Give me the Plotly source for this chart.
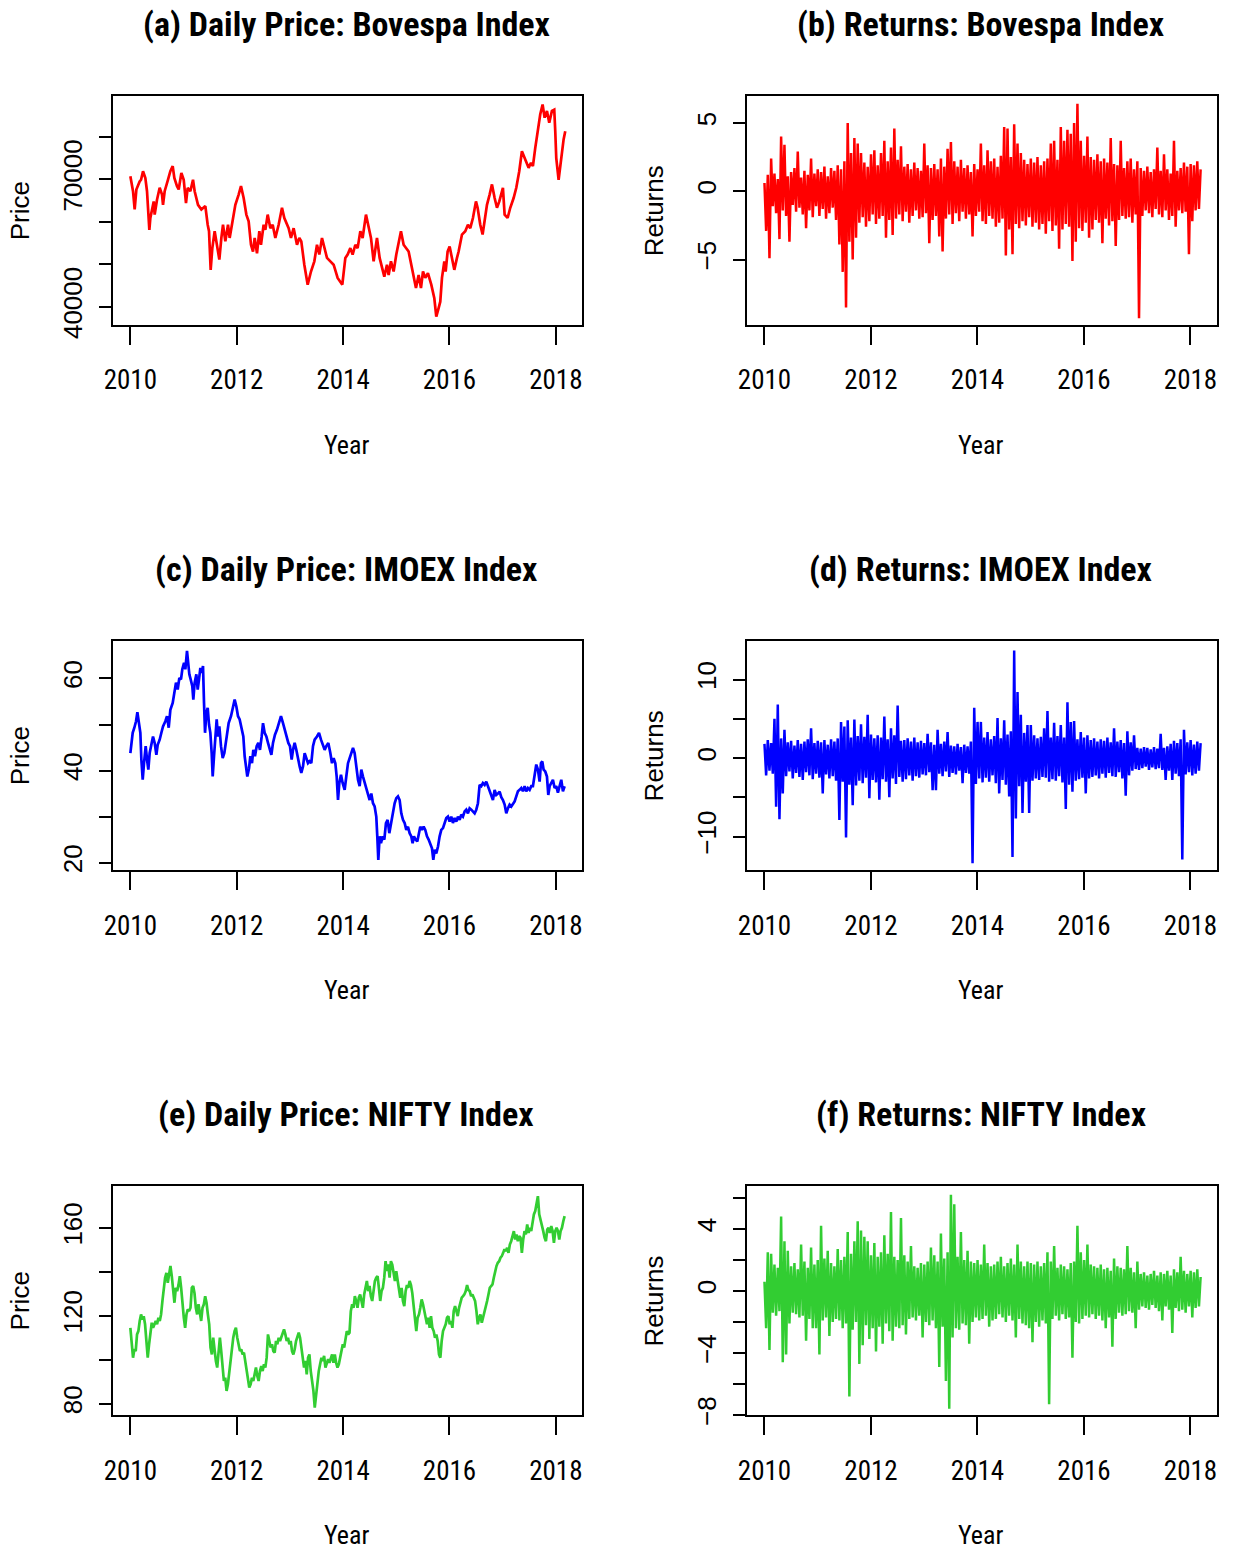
import numpy as np
import plotly.graph_objects as go

# ---------------- data ----------------
x_tick_years = [2010, 2012, 2014, 2016, 2018]

bovespa_year = [
    2010.000, 2010.050, 2010.081, 2010.113, 2010.175, 2010.201, 2010.238, 2010.282, 2010.313, 2010.332,
    2010.357, 2010.376, 2010.407, 2010.439, 2010.457, 2010.501, 2010.551, 2010.595, 2010.614, 2010.645,
    2010.708, 2010.752, 2010.796, 2010.827, 2010.877, 2010.909, 2010.959, 2011.003, 2011.046, 2011.078,
    2011.128, 2011.178, 2011.209, 2011.272, 2011.335, 2011.410, 2011.454, 2011.479, 2011.510, 2011.541,
    2011.585, 2011.629, 2011.673, 2011.711, 2011.742, 2011.786, 2011.836, 2011.867, 2011.911, 2011.974,
    2012.036, 2012.080, 2012.130, 2012.181, 2012.224, 2012.268, 2012.306, 2012.337, 2012.381, 2012.425,
    2012.456, 2012.506, 2012.538, 2012.582, 2012.632, 2012.676, 2012.726, 2012.788, 2012.851, 2012.895,
    2012.976, 2013.020, 2013.070, 2013.133, 2013.177, 2013.214, 2013.271, 2013.334, 2013.396, 2013.459,
    2013.509, 2013.553, 2013.603, 2013.647, 2013.697, 2013.760, 2013.822, 2013.897, 2013.948, 2013.985,
    2014.042, 2014.085, 2014.136, 2014.179, 2014.230, 2014.273, 2014.324, 2014.367, 2014.430, 2014.480,
    2014.524, 2014.574, 2014.637, 2014.687, 2014.731, 2014.775, 2014.825, 2014.856, 2014.900, 2014.950,
    2015.000, 2015.044, 2015.088, 2015.138, 2015.188, 2015.232, 2015.282, 2015.326, 2015.370, 2015.420,
    2015.464, 2015.502, 2015.545, 2015.595, 2015.658, 2015.715, 2015.752, 2015.796, 2015.827, 2015.859,
    2015.903, 2015.928, 2015.965, 2016.003, 2016.047, 2016.091, 2016.141, 2016.172, 2016.235, 2016.297,
    2016.347, 2016.391, 2016.441, 2016.498, 2016.529, 2016.579, 2016.623, 2016.661, 2016.705, 2016.755,
    2016.799, 2016.849, 2016.893, 2016.937, 2017.005, 2017.037, 2017.093, 2017.143, 2017.206, 2017.256,
    2017.312, 2017.362, 2017.425, 2017.488, 2017.532, 2017.569, 2017.613, 2017.657, 2017.707, 2017.751,
    2017.789, 2017.833, 2017.876, 2017.926, 2017.970, 2017.989, 2018.008, 2018.052, 2018.083, 2018.114,
    2018.146, 2018.177]
bovespa_price = [
    70700, 67200, 62900, 67600, 69500, 69900, 71900, 70300, 67200, 64000,
    58100, 60900, 63300, 64800, 61700, 65200, 68000, 66400, 64000, 67200,
    69900, 71900, 73100, 70300, 68400, 67600, 71500, 69900, 64400, 68000,
    67200, 69900, 67200, 64000, 62900, 63700, 59300, 57800, 48700, 53800,
    57800, 54600, 51100, 56200, 59300, 55400, 59300, 56200, 59300, 64000,
    66400, 68400, 65600, 61700, 60100, 54600, 53000, 56200, 52600, 57800,
    54600, 59300, 58100, 61700, 58500, 59300, 56200, 59300, 63300, 60900,
    58500, 56200, 58500, 54600, 56200, 55400, 49900, 45200, 48300, 50700,
    54600, 52300, 56200, 53800, 51500, 50700, 49900, 46800, 46000, 45200,
    51500, 52300, 53800, 52300, 54600, 53800, 57800, 56200, 61700, 58500,
    56200, 50700, 56200, 51500, 49100, 47100, 49900, 47500, 50700, 48300,
    52300, 55400, 57800, 54600, 53800, 53000, 49900, 47500, 44400, 47500,
    44400, 48300, 46800, 47900, 45200, 42000, 37700, 39700, 41200, 46800,
    50700, 48300, 53000, 54200, 51500, 48700, 51500, 53000, 57000, 57800,
    59300, 58500, 60900, 64800, 63300, 59300, 57000, 60900, 64000, 66400,
    68800, 65600, 63300, 64800, 68000, 61700, 60900, 63300, 65600, 68000,
    71900, 76600, 74700, 72700, 73900, 73100, 77400, 81300, 85300, 87600,
    84500, 86100, 83300, 86100, 86400, 81300, 75000, 69900, 73500, 76600,
    79400, 81300]

imoex_year = [
    2010.000, 2010.013, 2010.044, 2010.075, 2010.107, 2010.132, 2010.157, 2010.188, 2010.207, 2010.232,
    2010.257, 2010.288, 2010.313, 2010.338, 2010.363, 2010.395, 2010.426, 2010.457, 2010.489, 2010.514,
    2010.551, 2010.583, 2010.614, 2010.658, 2010.689, 2010.721, 2010.752, 2010.796, 2010.827, 2010.858,
    2010.890, 2010.921, 2010.952, 2010.977, 2011.009, 2011.034, 2011.065, 2011.090, 2011.109, 2011.134,
    2011.165, 2011.184, 2011.209, 2011.241, 2011.266, 2011.291, 2011.316, 2011.341, 2011.366, 2011.385,
    2011.404, 2011.429, 2011.454, 2011.479, 2011.504, 2011.529, 2011.548, 2011.573, 2011.598, 2011.623,
    2011.648, 2011.673, 2011.704, 2011.736, 2011.767, 2011.805, 2011.848, 2011.892, 2011.930, 2011.961,
    2011.993, 2012.024, 2012.055, 2012.093, 2012.124, 2012.149, 2012.174, 2012.199, 2012.231, 2012.256,
    2012.287, 2012.312, 2012.343, 2012.375, 2012.406, 2012.437, 2012.469, 2012.494, 2012.525, 2012.557,
    2012.588, 2012.619, 2012.651, 2012.682, 2012.719, 2012.757, 2012.795, 2012.832, 2012.870, 2012.901,
    2012.932, 2012.970, 2013.001, 2013.033, 2013.058, 2013.089, 2013.120, 2013.152, 2013.183, 2013.214,
    2013.246, 2013.277, 2013.308, 2013.340, 2013.371, 2013.402, 2013.434, 2013.465, 2013.509, 2013.547,
    2013.584, 2013.622, 2013.653, 2013.684, 2013.722, 2013.760, 2013.791, 2013.822, 2013.854, 2013.879,
    2013.904, 2013.929, 2013.960, 2013.991, 2014.029, 2014.060, 2014.092, 2014.123, 2014.154, 2014.186,
    2014.217, 2014.248, 2014.280, 2014.311, 2014.342, 2014.374, 2014.405, 2014.436, 2014.468, 2014.499,
    2014.530, 2014.562, 2014.593, 2014.624, 2014.643, 2014.662, 2014.687, 2014.712, 2014.743, 2014.775,
    2014.806, 2014.837, 2014.869, 2014.900, 2014.931, 2014.969, 2015.000, 2015.032, 2015.063, 2015.094,
    2015.126, 2015.157, 2015.188, 2015.220, 2015.251, 2015.282, 2015.307, 2015.332, 2015.364, 2015.395,
    2015.426, 2015.451, 2015.483, 2015.514, 2015.545, 2015.577, 2015.608, 2015.639, 2015.671, 2015.696,
    2015.721, 2015.752, 2015.784, 2015.815, 2015.846, 2015.878, 2015.909, 2015.940, 2015.971, 2016.003,
    2016.034, 2016.065, 2016.097, 2016.128, 2016.159, 2016.191, 2016.222, 2016.253, 2016.285, 2016.316,
    2016.347, 2016.379, 2016.410, 2016.441, 2016.473, 2016.504, 2016.535, 2016.567, 2016.598, 2016.629,
    2016.661, 2016.692, 2016.723, 2016.755, 2016.786, 2016.817, 2016.849, 2016.880, 2016.911, 2016.943,
    2016.974, 2017.005, 2017.037, 2017.068, 2017.099, 2017.131, 2017.162, 2017.193, 2017.225, 2017.256,
    2017.287, 2017.319, 2017.350, 2017.381, 2017.413, 2017.444, 2017.475, 2017.507, 2017.538, 2017.569,
    2017.601, 2017.632, 2017.663, 2017.695, 2017.720, 2017.745, 2017.770, 2017.801, 2017.833, 2017.858,
    2017.883, 2017.914, 2017.945, 2017.977, 2018.008, 2018.039, 2018.071, 2018.102, 2018.133, 2018.165]
imoex_price = [
    43.8, 45.3, 48.2, 49.3, 50.7, 52.7, 50.7, 48.2, 42.4, 38.0,
    41.6, 45.3, 42.4, 40.2, 43.8, 45.3, 47.4, 46.0, 43.4, 45.6,
    46.7, 48.2, 49.6, 50.7, 51.8, 49.3, 53.2, 54.7, 56.9, 59.1,
    57.6, 60.1, 59.8, 62.0, 63.4, 62.0, 66.0, 63.4, 60.9, 59.8,
    58.3, 55.4, 59.1, 60.9, 57.6, 59.8, 62.3, 61.2, 62.7, 54.7,
    48.2, 52.5, 53.6, 50.0, 48.2, 43.8, 38.7, 43.1, 47.4, 51.1,
    47.4, 49.6, 45.3, 42.7, 43.8, 47.4, 50.3, 51.8, 53.6, 55.4,
    53.9, 51.8, 51.1, 48.9, 47.4, 43.1, 40.2, 38.7, 40.5, 43.1,
    41.6, 44.5, 43.1, 45.3, 46.0, 44.5, 47.4, 50.3, 48.2, 47.4,
    46.0, 44.9, 43.4, 46.0, 47.8, 48.9, 50.3, 51.8, 50.3, 48.9,
    47.4, 46.0, 45.3, 42.4, 44.5, 46.0, 44.5, 42.4, 40.9, 39.5,
    40.9, 43.8, 42.4, 41.6, 42.0, 41.6, 45.3, 46.7, 47.4, 48.2,
    46.7, 45.3, 44.5, 45.3, 46.0, 43.8, 41.6, 42.7, 41.6, 38.7,
    33.6, 37.3, 39.1, 37.3, 35.8, 38.7, 41.6, 42.7, 43.8, 44.9,
    43.8, 40.5, 38.0, 36.6, 40.2, 38.7, 37.3, 35.8, 34.4, 33.6,
    35.0, 32.9, 32.2, 30.0, 25.7, 20.6, 25.7, 24.2, 25.7, 25.0,
    28.6, 29.3, 26.4, 28.6, 30.7, 32.9, 34.0, 34.4, 33.6, 30.7,
    29.3, 28.6, 27.1, 27.8, 26.4, 25.7, 24.2, 25.7, 25.0, 24.6,
    26.4, 27.8, 27.1, 27.8, 27.1, 25.7, 25.0, 24.2, 23.1, 20.6,
    22.8, 22.0, 23.5, 25.7, 27.1, 27.5, 28.6, 29.7, 30.0, 28.9,
    30.0, 28.6, 29.7, 28.9, 30.0, 29.3, 30.4, 30.0, 31.1, 31.5,
    30.7, 31.8, 31.5, 31.1, 30.7, 31.5, 32.9, 36.9, 36.6, 37.3,
    36.9, 37.6, 36.6, 35.8, 34.7, 33.6, 35.8, 34.7, 35.0, 35.4,
    34.2, 33.6, 32.6, 30.7, 31.8, 32.6, 32.2, 32.9, 33.3, 34.4,
    35.5, 35.8, 36.2, 35.5, 36.6, 35.5, 36.2, 35.8, 36.6, 36.6,
    38.7, 41.3, 40.2, 37.6, 41.6, 42.0, 40.2, 39.8, 38.7, 34.7,
    36.6, 37.3, 38.0, 36.2, 36.6, 35.2, 36.6, 38.0, 35.5, 36.6]

nifty_first_year, nifty_last_year = 2010.0, 2018.165
nifty_price = [
    114.5, 107.0, 100.9, 104.7, 103.9, 111.5, 113.0, 117.6, 120.6, 118.3,
    119.8, 116.1, 110.0, 100.9, 107.0, 111.5, 116.8, 114.5, 116.1, 117.6,
    116.1, 119.1, 117.6, 120.6, 126.7, 132.7, 137.3, 139.5, 135.0, 138.8,
    142.6, 138.0, 131.2, 125.9, 132.7, 131.2, 133.9, 138.0, 132.7, 123.6,
    119.1, 114.5, 120.6, 122.9, 122.1, 123.6, 132.7, 133.5, 130.3, 123.6,
    120.6, 125.2, 121.4, 117.6, 123.6, 125.2, 128.9, 125.9, 120.6, 116.1,
    105.5, 102.4, 110.0, 103.9, 99.4, 96.4, 103.9, 110.0, 103.9, 96.4,
    90.3, 91.8, 85.8, 88.8, 94.8, 100.9, 105.5, 110.0, 113.0, 114.5,
    110.0, 107.0, 103.9, 104.7, 102.4, 103.2, 99.4, 94.8, 91.8, 87.3,
    88.8, 91.8, 90.3, 93.3, 96.4, 92.6, 90.3, 94.8, 97.1, 94.8,
    97.9, 96.4, 100.9, 111.5, 108.5, 105.5, 107.0, 103.9, 103.2, 108.5,
    107.0, 110.0, 108.5, 110.0, 111.5, 113.8, 111.5, 108.5, 110.0, 107.0,
    108.5, 103.9, 102.4, 104.7, 108.5, 110.8, 112.3, 110.0, 105.5, 100.9,
    96.4, 99.4, 93.3, 100.9, 102.4, 94.8, 90.3, 85.8, 78.2, 84.2,
    91.8, 94.8, 97.9, 100.9, 99.4, 101.7, 96.4, 97.9, 100.2, 98.6,
    100.9, 102.4, 98.6, 102.4, 98.6, 96.4, 97.9, 100.9, 102.4, 107.0,
    105.5, 110.0, 113.0, 111.5, 112.3, 122.1, 125.2, 123.6, 128.9, 126.7,
    123.6, 128.2, 129.7, 126.7, 123.6, 129.7, 132.7, 135.8, 131.2, 133.5,
    128.9, 126.7, 131.2, 135.8, 137.3, 138.0, 132.7, 126.7, 131.2, 132.7,
    137.3, 144.8, 140.3, 143.3, 137.3, 144.8, 143.3, 138.8, 135.8, 140.3,
    135.8, 131.2, 128.2, 132.7, 126.7, 124.4, 131.2, 133.9, 132.7, 135.8,
    133.9, 130.3, 123.6, 117.6, 113.0, 119.1, 120.6, 123.6, 127.4, 125.2,
    122.1, 119.1, 116.1, 119.1, 114.5, 119.8, 114.5, 113.0, 110.0, 111.5,
    108.5, 102.4, 100.9, 108.5, 113.0, 114.5, 116.1, 119.1, 119.8, 116.1,
    117.6, 114.5, 122.1, 124.4, 122.1, 119.8, 123.6, 126.7, 128.2, 128.9,
    129.7, 131.2, 133.9, 131.7, 131.2, 128.9, 129.7, 128.2, 126.7, 122.1,
    116.1, 119.1, 120.6, 116.8, 119.1, 121.4, 123.6, 126.7, 129.7, 132.7,
    133.5, 134.2, 137.3, 140.3, 142.6, 144.1, 144.8, 146.4, 147.1, 148.6,
    150.2, 149.4, 150.9, 148.6, 152.4, 153.9, 157.0, 158.5, 154.7, 157.0,
    153.9, 156.2, 155.5, 148.6, 154.7, 158.5, 157.0, 161.5, 157.7, 160.0,
    158.5, 162.3, 166.1, 167.6, 170.6, 174.4, 166.1, 163.0, 160.8, 158.5,
    155.5, 153.9, 159.2, 160.0, 157.7, 160.8, 158.5, 153.2, 158.5, 160.0,
    158.5, 154.7, 158.5, 160.0, 163.0, 165.3]

returns_first_year, returns_last_year = 2010.0, 2018.19

bovespa_returns = [
    0.6, -2.9, 1.2, -4.9, 2.4, -1.1, 1.3, -1.6, 0.9, -3.5,
    4.0, -1.4, 3.4, -1.8, 1.1, -3.7, 1.4, -1.0, 1.7, -1.5,
    2.9, -1.2, 1.0, -1.7, 1.5, -2.7, 1.2, -1.4, 2.4, -1.9,
    1.3, -1.1, 1.6, -1.8, 1.4, -1.3, 1.8, -2.0, 1.1, -1.6,
    1.7, -1.2, 1.5, -2.1, 1.9, -3.9, 1.6, -5.9, 2.2, -8.5,
    5.0, -3.7, 2.8, -5.0, 3.9, -3.4, 3.5, -2.3, 2.8, -1.9,
    2.1, -2.6, 1.8, -2.2, 2.7, -1.7, 3.0, -2.4, 1.9, -2.0,
    2.8, -1.8, 3.7, -3.4, 2.2, -2.1, 3.2, -3.2, 4.6, -2.0,
    2.3, -1.7, 3.3, -2.2, 1.8, -1.5, 2.0, -2.3, 1.6, -1.8,
    2.1, -1.4, 1.7, -2.0, 1.5, -1.9, 3.5, -1.6, 1.9, -3.8,
    1.7, -2.1, 2.0, -1.8, 1.6, -3.3, 2.4, -4.4, 1.8, -2.0,
    3.1, -1.7, 3.6, -2.4, 2.2, -1.6, 1.8, -2.2, 2.3, -1.5,
    1.7, -2.0, 1.9, -1.7, 1.4, -3.3, 2.0, -1.8, 1.6, -1.5,
    3.5, -2.2, 1.9, -2.4, 3.0, -1.8, 2.2, -2.0, 2.4, -2.6,
    1.8, -2.3, 2.6, -2.0, 4.7, -4.7, 4.6, -2.8, 2.5, -4.6,
    4.9, -2.4, 3.5, -2.7, 2.8, -2.2, 2.3, -2.5, 2.0, -1.9,
    2.4, -2.6, 2.1, -2.3, 2.5, -2.8, 1.9, -2.4, 2.2, -3.1,
    2.4, -2.2, 3.5, -2.9, 3.7, -2.5, 2.3, -4.2, 4.7, -2.8,
    3.7, -2.4, 4.5, -2.6, 4.2, -5.1, 5.0, -3.7, 6.4, -2.7,
    3.7, -2.9, 2.6, -2.3, 4.0, -3.4, 2.5, -2.8, 2.3, -2.1,
    2.7, -2.3, 2.2, -3.8, 2.4, -2.0, 2.1, -2.5, 3.9, -2.2,
    2.0, -4.0, 1.9, -2.1, 3.7, -1.8, 1.7, -2.0, 2.2, -1.9,
    2.4, -2.3, 1.6, -1.7, 2.2, -9.3, 1.7, -1.8, 1.5, -1.4,
    1.8, -1.6, 1.4, -1.9, 1.6, -1.3, 3.2, -1.7, 1.5, -1.9,
    2.7, -1.4, 1.6, -2.1, 1.3, -1.8, 3.7, -2.6, 1.5, -1.4,
    1.7, -1.6, 2.1, -1.5, 1.8, -4.6, 2.0, -2.2, 1.9, -1.4,
    2.2, -1.3, 1.6]

imoex_returns = [
    1.8, -2.2, 2.3, -1.6, 1.9, -2.0, 5.0, -6.2, 6.8, -7.8,
    2.5, -4.5, 3.6, -2.3, 2.0, -1.7, 2.2, -2.6, 1.6, -1.9,
    2.3, -2.4, 1.8, -2.8, 2.1, -1.8, 2.4, -2.2, 3.8, -2.7,
    1.9, -2.0, 2.2, -2.5, 2.0, -4.5, 2.3, -2.1, 1.7, -2.6,
    2.4, -2.3, 2.1, -2.9, 2.5, -7.9, 4.6, -3.0, 4.0, -10.1,
    4.8, -3.4, 2.6, -6.0, 4.9, -3.5, 2.8, -2.9, 4.3, -3.2,
    2.7, -2.5, 5.5, -5.1, 3.0, -2.8, 2.5, -3.1, 2.9, -5.3,
    2.6, -2.7, 5.3, -3.0, 2.4, -5.0, 3.8, -2.6, 2.9, -3.3,
    6.7, -2.4, 2.2, -3.0, 2.3, -2.7, 2.5, -2.2, 2.1, -2.9,
    2.6, -2.3, 2.0, -2.5, 2.2, -2.1, 1.9, -2.2, 3.1, -1.8,
    2.0, -4.1, 1.7, -4.1, 3.6, -2.0, 1.8, -2.3, 2.1, -1.7,
    3.3, -2.4, 1.6, -1.9, 1.5, -2.1, 1.8, -1.6, 1.4, -3.2,
    1.7, -1.9, 1.5, -2.0, 2.1, -13.4, 6.4, -3.3, 4.6, -2.6,
    4.6, -3.1, 2.6, -2.5, 3.3, -3.0, 2.4, -2.2, 2.8, -3.2,
    5.1, -4.5, 2.5, -2.8, 4.8, -3.4, 3.0, -4.9, 3.4, -12.6,
    13.7, -7.7, 8.4, -3.6, 5.5, -7.0, 3.2, -3.0, 4.2, -7.0,
    4.2, -2.9, 2.9, -2.6, 2.5, -2.8, 2.7, -2.4, 3.8, -2.5,
    6.0, -3.0, 2.6, -2.7, 4.5, -2.9, 2.8, -2.3, 4.2, -3.1,
    2.6, -6.5, 7.1, -3.4, 4.6, -4.3, 4.7, -2.9, 2.4, -2.7,
    3.3, -2.5, 2.6, -4.5, 2.9, -2.6, 2.3, -2.4, 2.5, -2.2,
    2.1, -2.6, 2.4, -2.0, 2.2, -2.5, 2.6, -1.9, 2.0, -2.3,
    3.8, -2.4, 2.1, -1.8, 2.3, -2.6, 1.9, -4.8, 3.4, -2.2,
    2.0, -1.6, 2.9, -1.4, 1.3, -1.5, 1.2, -1.3, 1.4, -1.1,
    1.3, -1.5, 1.1, -1.2, 1.4, -1.4, 1.2, -1.3, 3.1, -1.5,
    1.3, -2.8, 1.5, -1.6, 1.8, -2.8, 2.2, -2.0, 1.9, -2.3,
    2.4, -12.9, 3.6, -2.1, 2.0, -1.8, 2.3, -2.2, 1.7, -2.0,
    2.1, -1.6, 1.9]

nifty_returns = [
    0.6, -2.4, 2.5, -3.8, 2.4, -1.4, 1.7, -1.6, 1.5, -1.3,
    4.8, -4.6, 3.2, -4.1, 2.6, -2.1, 1.6, -1.4, 1.8, -1.5,
    1.4, -1.7, 3.0, -1.6, 1.9, -3.2, 1.5, -1.8, 2.8, -2.4,
    1.7, -2.4, 2.0, -4.1, 4.2, -1.9, 2.1, -1.7, 2.6, -2.9,
    1.8, -2.0, 1.6, -1.8, 2.7, -1.9, 2.0, -2.4, 2.2, -2.1,
    3.8, -6.8, 2.4, -2.5, 3.2, -2.0, 4.5, -4.7, 3.9, -3.5,
    3.5, -2.2, 3.2, -3.1, 2.3, -2.4, 3.1, -3.9, 2.2, -2.3,
    2.5, -3.4, 3.6, -2.1, 2.4, -2.6, 5.1, -3.2, 2.2, -2.3,
    2.0, -2.4, 4.7, -2.2, 2.3, -2.8, 1.9, -1.8, 2.9, -1.7,
    1.6, -1.9, 1.5, -1.6, 1.8, -3.0, 1.7, -2.0, 1.9, -2.2,
    2.8, -1.9, 2.3, -2.4, 1.9, -4.9, 3.7, -2.3, 2.1, -5.8,
    2.5, -7.6, 6.2, -3.0, 5.6, -2.4, 2.2, -2.5, 3.8, -2.1,
    2.0, -2.2, 2.6, -3.4, 1.9, -2.0, 1.8, -1.7, 2.0, -1.9,
    1.7, -1.8, 3.0, -1.6, 1.8, -2.3, 1.6, -1.9, 1.7, -1.8,
    1.9, -1.5, 2.2, -1.7, 1.6, -2.0, 1.8, -1.6, 2.1, -1.9,
    1.7, -3.0, 3.0, -1.8, 1.9, -2.1, 1.6, -2.2, 1.9, -2.4,
    1.8, -3.3, 1.7, -2.0, 1.9, -2.3, 1.6, -1.9, 1.8, -2.1,
    2.5, -7.3, 1.9, -1.8, 2.9, -1.6, 1.5, -1.9, 1.7, -1.5,
    1.6, -1.8, 1.4, -1.7, 1.8, -4.3, 1.9, -2.0, 4.2, -2.1,
    2.5, -1.8, 2.0, -1.6, 3.0, -1.7, 1.7, -1.5, 1.6, -1.8,
    1.5, -1.6, 1.7, -1.9, 1.4, -2.4, 1.5, -1.7, 1.3, -3.6,
    2.1, -1.8, 1.6, -1.4, 1.5, -1.6, 1.4, -1.5, 2.9, -1.3,
    1.5, -1.4, 1.2, -2.4, 1.9, -1.2, 1.1, -1.0, 1.2, -1.1,
    1.0, -1.2, 1.1, -0.9, 1.3, -1.1, 1.0, -1.3, 1.2, -1.9,
    1.1, -1.0, 1.3, -1.2, 1.0, -2.7, 1.4, -1.1, 1.2, -1.3,
    2.2, -1.2, 1.3, -1.4, 1.1, -1.0, 1.3, -1.7, 1.2, -1.1,
    1.4, -1.0, 0.9]

# ---------------- layout constants ----------------
# Measured page mapping: shown_x = 0.9932 * fig_x + 8.6, shown_y = 0.991 * fig_y - 1.
# Positions below are reference-picture pixels converted through that mapping.
W, H = 1235, 1580
SX, DX = 0.9932, 8.6
SY, DY = 0.991, -1.0


def px(xr):
    return ((xr - DX) / SX) / W


def py(yr):
    return 1 - ((yr - DY) / SY) / H


COLS = [(112.3, 582.0), (746.7, 1217.0)]
ROW_TOPS = [95.0, 640.0, 1185.0]
BOX_H = 229.0
X_RANGE = [2009.667, 2018.494]

NARROW = "Liberation Sans Narrow, Arial Narrow, Roboto Condensed, sans-serif"
REG = "Liberation Sans, Arial, sans-serif"

nifty_x = np.linspace(nifty_first_year, nifty_last_year, len(nifty_price))
ret_x_b = np.linspace(returns_first_year, returns_last_year, len(bovespa_returns))
ret_x_d = np.linspace(returns_first_year, returns_last_year, len(imoex_returns))
ret_x_f = np.linspace(returns_first_year, returns_last_year, len(nifty_returns))

panels = [
    dict(title="(a) Daily Price: Bovespa Index", x=bovespa_year, y=bovespa_price, color="#FF0000",
         ylab="Price", yr=[35708, 89600], tv=[40000, 50000, 60000, 70000, 80000],
         tt=["40000", "", "", "70000", ""], row=0, col=0, lw=2.7),
    dict(title="(b) Returns: Bovespa Index", x=ret_x_b, y=bovespa_returns, color="#FF0000",
         ylab="Returns", yr=[-9.79, 6.97], tv=[-5, 0, 5], tt=["\u22125", "0", "5"], row=0, col=1, lw=2.5),
    dict(title="(c) Daily Price: IMOEX Index", x=imoex_year, y=imoex_price, color="#0000FF",
         ylab="Price", yr=[18.37, 68.12], tv=[20, 30, 40, 50, 60], tt=["20", "", "40", "", "60"],
         row=1, col=0, lw=2.7),
    dict(title="(d) Returns: IMOEX Index", x=ret_x_d, y=imoex_returns, color="#0000FF",
         ylab="Returns", yr=[-14.27, 14.89], tv=[-10, -5, 0, 5, 10], tt=["\u221210", "", "0", "", "10"],
         row=1, col=1, lw=2.5),
    dict(title="(e) Daily Price: NIFTY Index", x=nifty_x, y=nifty_price, color="#32CD32",
         ylab="Price", yr=[74.73, 178.95], tv=[80, 100, 120, 140, 160], tt=["80", "", "120", "", "160"],
         row=2, col=0, lw=2.7),
    dict(title="(f) Returns: NIFTY Index", x=ret_x_f, y=nifty_returns, color="#32CD32",
         ylab="Returns", yr=[-8.01, 6.76], tv=[-8, -6, -4, -2, 0, 2, 4, 6],
         tt=["\u22128", "", "\u22124", "", "0", "", "4", ""], row=2, col=1, lw=2.5),
]

fig = go.Figure()
layout = dict(width=W, height=H, margin=dict(l=0, r=0, t=0, b=0),
              paper_bgcolor="white", plot_bgcolor="white", showlegend=False)
annotations = []

for k, p in enumerate(panels, start=1):
    sfx = "" if k == 1 else str(k)
    x0, x1 = COLS[p["col"]]
    top = ROW_TOPS[p["row"]]
    bot = top + BOX_H
    fig.add_trace(go.Scatter(x=p["x"], y=p["y"], mode="lines",
                             line=dict(color=p["color"], width=p["lw"]),
                             xaxis="x" + sfx, yaxis="y" + sfx, hoverinfo="skip"))
    layout["xaxis" + sfx] = dict(
        domain=[px(x0), px(x1)], anchor="y" + sfx, range=X_RANGE,
        tickmode="array", tickvals=x_tick_years, ticktext=[str(t) for t in x_tick_years],
        ticks="outside", ticklen=18, tickwidth=2, tickcolor="black",
        showline=True, linewidth=2, linecolor="black", mirror=True,
        showgrid=False, zeroline=False, ticklabelstandoff=12,
        tickfont=dict(family=NARROW, size=27, color="black"))
    layout["yaxis" + sfx] = dict(
        domain=[py(bot), py(top)], anchor="x" + sfx, range=p["yr"],
        tickmode="array", tickvals=p["tv"], ticktext=p["tt"], tickangle=-90,
        ticks="outside", ticklen=12, tickwidth=2, tickcolor="black",
        showline=True, linewidth=2, linecolor="black", mirror=True,
        showgrid=False, zeroline=False, ticklabelstandoff=6,
        tickfont=dict(family=REG, size=26, color="black"))
    cx = (x0 + x1) / 2 - 1
    annotations.append(dict(text=p["title"], x=px(cx), y=py(top - 72), xref="paper", yref="paper",
                            xanchor="center", yanchor="middle", showarrow=False,
                            font=dict(family=NARROW, size=34, color="black", weight="bold")))
    annotations.append(dict(text="Year", x=px(cx), y=py(top + 349), xref="paper", yref="paper",
                            xanchor="center", yanchor="middle", showarrow=False,
                            font=dict(family=NARROW, size=26, color="black")))
    annotations.append(dict(text=p["ylab"], x=px(x0 - 93), y=py(top + BOX_H / 2),
                            xref="paper", yref="paper", xanchor="center", yanchor="middle",
                            textangle=-90, showarrow=False,
                            font=dict(family=REG, size=26, color="black")))

layout["annotations"] = annotations
fig.update_layout(**layout)
fig.write_html("out.html")
